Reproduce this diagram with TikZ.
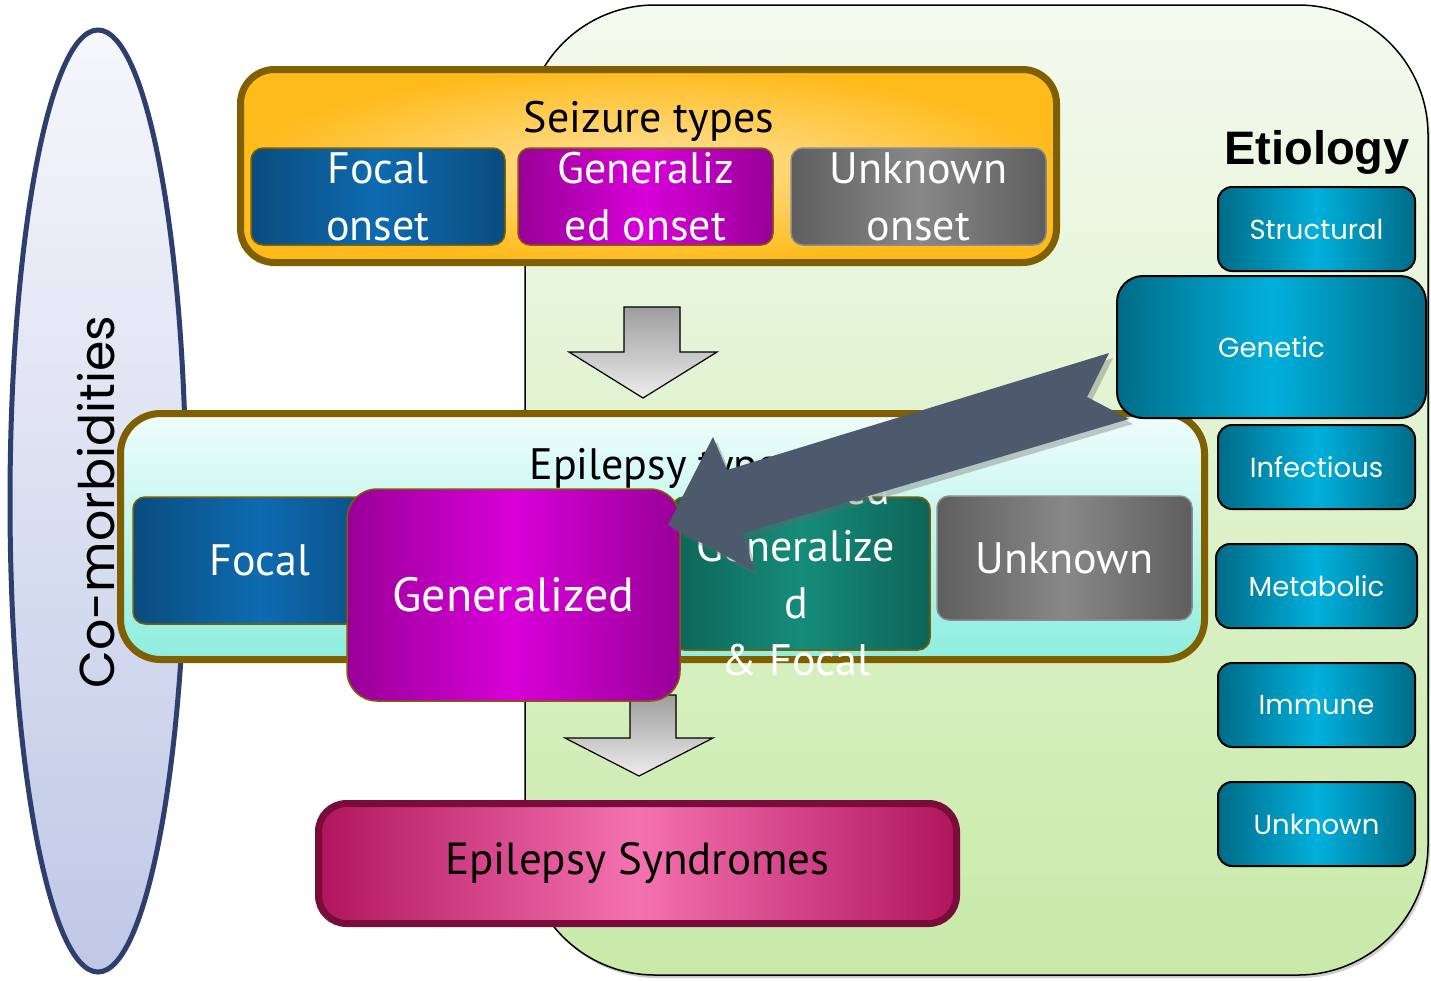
\documentclass[tikz,border=0pt]{standalone}
\usepackage{fontspec}
\setmainfont{PT Sans}
\newfontfamily\gothic{Poppins}
\newfontfamily\arialfont{Liberation Sans}
\usepackage{xcolor}
\usepackage{tikz}
\usetikzlibrary{shapes,positioning,calc}

\definecolor{brownedge}{HTML}{7F5F00}
\definecolor{orangeout}{HTML}{FFBB1C}
\definecolor{orangein}{HTML}{FFE3A0}
\definecolor{blueedge}{HTML}{0A4C7E}
\definecolor{bluemid}{HTML}{0E6BB0}
\definecolor{magedge}{HTML}{980098}
\definecolor{magmid}{HTML}{D800D8}
\definecolor{grayedge}{HTML}{5E5E5E}
\definecolor{graymid}{HTML}{888888}
\definecolor{tealedge}{HTML}{0D6458}
\definecolor{tealmid}{HTML}{168C7A}
\definecolor{cyanedge}{HTML}{006B87}
\definecolor{cyanmid}{HTML}{00B0DC}
\definecolor{pinkedge}{HTML}{B0155E}
\definecolor{pinkmid}{HTML}{F572B0}
\definecolor{maroonedge}{HTML}{780C3A}
\definecolor{slate}{HTML}{4D5A6E}
\definecolor{navyedge}{HTML}{2E3F6E}
\definecolor{ellipsetop}{HTML}{F6F7FC}
\definecolor{ellipsebot}{HTML}{BFC8E6}
\definecolor{greentop}{HTML}{F4FAEF}
\definecolor{greenbot}{HTML}{C8EAA8}
\definecolor{aquatop}{HTML}{F0FDFB}
\definecolor{aquabot}{HTML}{8DEEDF}

\newcommand{\bigtxt}{\fontsize{44}{57}\selectfont}
\newcommand{\etiotxt}{\gothic\fontsize{27.5}{30}\selectfont}

\begin{document}
\begin{tikzpicture}[x=1pt, y=-1pt,
    glow/.style 2 args={rectangle, rounded corners=12pt, left color=#1, right color=#1,
        middle color=#2, text=white, align=center, inner sep=0pt},
    typebox/.style 2 args={glow={#1}{#2}, draw=brownedge, line width=1.5pt, font=\bigtxt},
    grayarrow/.style={draw=black, line width=1.2pt, top color=black!38, bottom color=black!7},
    etio/.style={glow={cyanedge}{cyanmid}, draw=black, line width=2pt, rounded corners=14pt,
        font=\etiotxt, minimum width=197pt, minimum height=84pt}]
        \useasboundingbox (0,0) rectangle (1431,980);

        % Background panel
        \fill[black!50, opacity=.4, rounded corners=130pt] (527,9) rectangle (1430,978);
        \filldraw[draw=black, line width=1.5pt, top color=greentop, bottom color=greenbot,
            rounded corners=130pt] (525,5) rectangle (1428,975);

        % Co-morbidities
        \node[ellipse, draw=navyedge, line width=5pt, top color=ellipsetop, bottom color=ellipsebot,
            minimum width=176pt, minimum height=942pt] (comorb) at (98,501) {};

        % Seizure types
        \node[rectangle, rounded corners=34pt, draw=brownedge, line width=7pt,
            inner color=orangein, outer color=orangeout,
            minimum width=816pt, minimum height=193pt] (seizure) at (648.5,166) {};
        \node[font=\fontsize{44}{50}\selectfont] (seizlbl) at (649,121) {Seizure types};
        \node[typebox={blueedge}{bluemid}, minimum width=254pt, minimum height=97pt]
            (sFocal) at (378,196.5) {Focal\\onset};
        \node[typebox={magedge}{magmid}, minimum width=255pt, minimum height=97pt]
            (sGen) at (645.5,196.5) {Generaliz\\ed onset};
        \node[typebox={grayedge}{graymid}, draw=black!45, minimum width=255pt, minimum height=97pt]
            (sUnk) at (918.5,196.5) {Unknown\\onset};

        % Down arrows
        \filldraw[grayarrow] (624,307) -- (680,307) -- (680,352) -- (717,352) -- (643,398)
            -- (569,352) -- (624,352) -- cycle;
        \filldraw[grayarrow] (630,695) -- (676,695) -- (676,738) -- (713,738) -- (639,776)
            -- (565,738) -- (630,738) -- cycle;

        % Epilepsy types
        \node[rectangle, rounded corners=40pt, draw=brownedge, line width=7pt,
            top color=aquatop, bottom color=aquabot,
            minimum width=1084pt, minimum height=246pt] (epi) at (662.5,536.5) {};
        \node[font=\fontsize{44}{50}\selectfont] (epilbl) at (664,468) {Epilepsy types};
        \node[typebox={blueedge}{bluemid}, minimum width=254pt, minimum height=127pt]
            (eFocal) at (260,560.5) {Focal};
        \node[typebox={tealedge}{tealmid}, minimum width=258pt, minimum height=153pt]
            (eComb) at (801,573.5) {};
        \node[font=\bigtxt, text=white, align=center] (combtxt) at (796,575)
            {Combined\\Generalize\\d\\\& Focal};
        \node[typebox={grayedge}{graymid}, draw=black!45, minimum width=255pt, minimum height=124pt]
            (eUnk) at (1064.5,558) {Unknown};
        \node[typebox={magedge}{magmid}, rounded corners=30pt, minimum width=333pt, minimum height=212pt,
            font=\fontsize{48}{57}\selectfont]
            (eGen) at (513.5,595) {Generalized};

        % Epilepsy syndromes
        \node[rectangle, rounded corners=28pt, draw=maroonedge, line width=7pt,
            left color=pinkedge, right color=pinkedge, middle color=pinkmid,
            font=\fontsize{45}{50}\selectfont,
            minimum width=638pt, minimum height=120pt] (synd) at (637.5,863.5) {Epilepsy Syndromes};

        % Etiology
        \node[font=\arialfont\bfseries\fontsize{47}{52}\selectfont] (etiolbl) at (1317,152) {Etiology};
        \node[etio] (etStruct) at (1316.5,229) {Structural};
        \node[etio, rounded corners=26pt, minimum width=309pt, minimum height=142pt]
            (etGen) at (1271.5,347) {Genetic};
        \node[etio] (etInf) at (1316.5,467) {Infectious};
        \node[etio, minimum width=201pt] (etMeta) at (1316.5,586) {Metabolic};
        \node[etio] (etImm) at (1316.5,705) {Immune};
        \node[etio] (etUnk) at (1316.5,824) {Unknown};

        % Genetic -> Generalized
        \fill[black!60, opacity=.35] (672,530) -- (717,442) -- (731,475) -- (1113,358) -- (1091,402)
            -- (1133,424) -- (747,538) -- (758,576) -- cycle;
        \fill[slate] (668,525) -- (713,437) -- (727,470) -- (1109,353) -- (1087,397)
            -- (1129,419) -- (743,533) -- (754,571) -- cycle;

        % Labels
        \node[rotate=90, font=\gothic\fontsize{49}{55}\selectfont] (comorblbl) at (96,502) {Co-morbidities};
    \end{tikzpicture}
\end{document}
